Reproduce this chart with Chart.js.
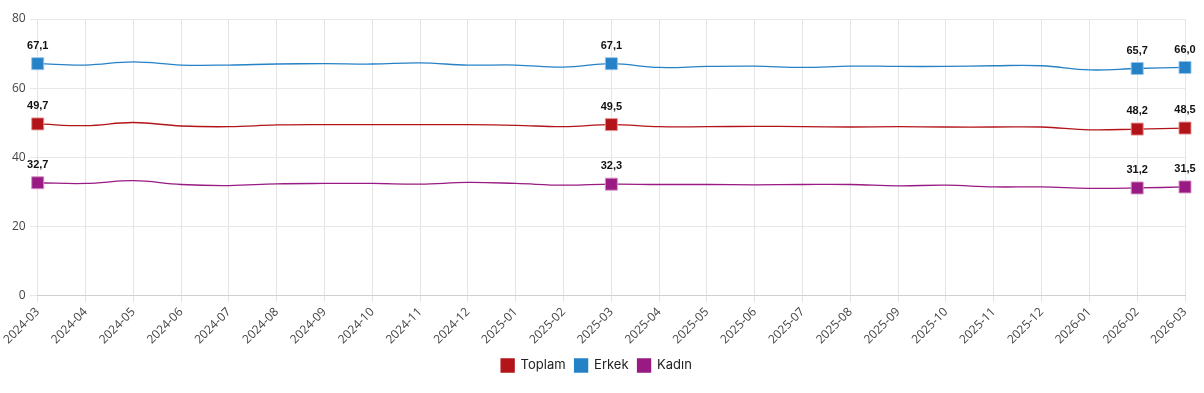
<!DOCTYPE html>
<html>
<head>
<meta charset="utf-8">
<script src="https://cdn.jsdelivr.net/npm/chart.js@4"></script>
<style>
  html, body { margin: 0; padding: 0; background: #fff; }
  #wrap { width: 1204px; height: 393px; }
</style>
</head>
<body>
<div id="wrap"><canvas id="lineChart"></canvas></div>
<script>
const months = ['2024-03','2024-04','2024-05','2024-06','2024-07','2024-08','2024-09','2024-10','2024-11','2024-12',
  '2025-01','2025-02','2025-03','2025-04','2025-05','2025-06','2025-07','2025-08','2025-09','2025-10','2025-11','2025-12',
  '2026-01','2026-02','2026-03'];
const toplam = [49.7,49.2,50.1,49.1,48.9,49.4,49.5,49.5,49.5,49.5,49.3,48.9,49.5,48.9,48.9,49.0,48.9,48.8,48.9,48.8,48.8,48.8,48.0,48.2,48.5];
const erkek  = [67.1,66.7,67.6,66.7,66.7,67.0,67.1,67.0,67.3,66.7,66.7,66.1,67.1,66.0,66.3,66.4,66.0,66.4,66.3,66.3,66.5,66.5,65.3,65.7,66.0];
const kadin  = [32.7,32.5,33.3,32.2,31.9,32.4,32.5,32.5,32.3,32.8,32.5,32.0,32.3,32.2,32.2,32.1,32.2,32.2,31.8,32.0,31.5,31.5,31.1,31.2,31.5];
const marked = [0, 12, 23, 24];

document.addEventListener('DOMContentLoaded', function(){
  const ctx = document.getElementById('lineChart');

  function series(label, data, color, border){
    return {
      label: label,
      data: data,
      borderColor: color,
      backgroundColor: color,
      borderWidth: 1.3,
      tension: 0.4,
      pointStyle: 'rect',
      pointRadius: data.map((_, i) => marked.includes(i) ? 8.5 : 0),
      pointHoverRadius: 8.5,
      pointBorderColor: border,
      pointBorderWidth: 1,
      pointBackgroundColor: color
    };
  }

  // draws the value above each marked point
  const valueLabels = {
    id: 'valueLabels',
    afterDatasetsDraw(chart){
      const c = chart.ctx;
      c.save();
      c.font = 'bold 11px "Liberation Sans", Arial, sans-serif';
      c.fillStyle = '#111';
      c.textAlign = 'center';
      c.textBaseline = 'middle';
      chart.data.datasets.forEach((ds, di) => {
        const meta = chart.getDatasetMeta(di);
        marked.forEach(i => {
          const pt = meta.data[i];
          c.fillText(ds.data[i].toFixed(1).replace('.', ','), pt.x, pt.y - 18);
        });
      });
      c.restore();
    }
  };

  new Chart(ctx, {
    type: 'line',
    data: {
      labels: months,
      datasets: [
        series('Toplam', toplam, '#b31419', 'rgba(230,150,150,0.9)'),
        series('Erkek', erkek, '#2582c6', 'rgba(150,195,235,0.9)'),
        series('Kadın', kadin, '#981a82', 'rgba(215,150,200,0.9)')
      ]
    },
    options: {
      responsive: true,
      maintainAspectRatio: false,
      animation: false,
      layout: { padding: { top: 19, right: 19, left: 8, bottom: 11 } },
      scales: {
        x: {
          grid: { color: '#e4e4e4', tickLength: 6 },
          border: { color: '#d0d0d0' },
          ticks: {
            color: '#444',
            font: { family: '"Open Sans", sans-serif', size: 12 },
            maxRotation: 45, minRotation: 45,
            autoSkip: false
          }
        },
        y: {
          min: 0, max: 80,
          grid: { color: '#e8e8e8', tickLength: 8 },
          border: { display: false },
          ticks: {
            stepSize: 20,
            color: '#444',
            padding: 4,
            font: { family: '"Open Sans", sans-serif', size: 12 }
          }
        }
      },
      plugins: {
        legend: {
          position: 'bottom',
          labels: {
            boxWidth: 13, boxHeight: 13,
            padding: 9,
            color: '#222',
            font: { family: 'Inter, "Open Sans", sans-serif', size: 13 }
          }
        },
        tooltip: { enabled: true }
      }
    },
    plugins: [valueLabels]
  });
});
</script>
</body>
</html>
